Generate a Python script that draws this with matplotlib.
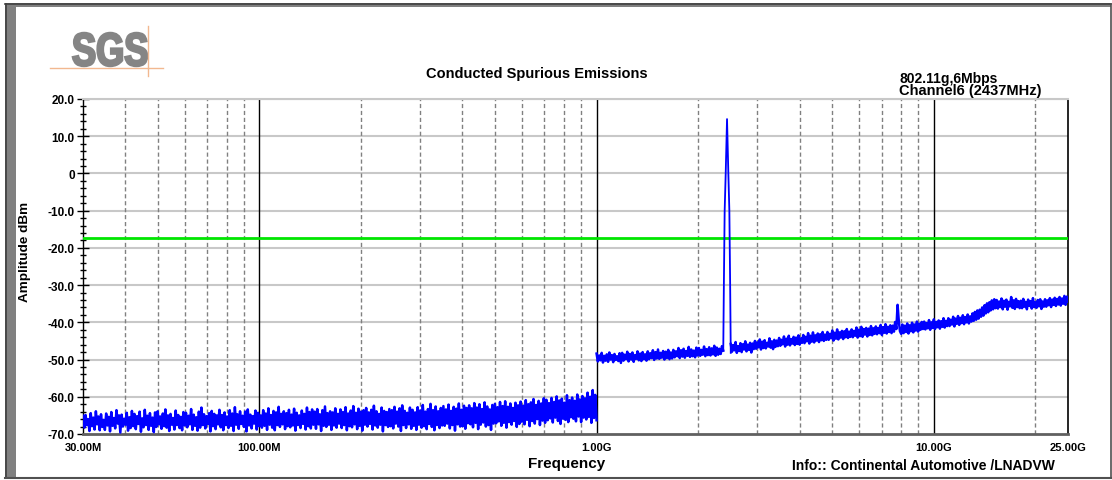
import numpy as np
import matplotlib
matplotlib.use("Agg")
import matplotlib.pyplot as plt
from matplotlib.patches import Rectangle, PathPatch
from matplotlib.lines import Line2D
from matplotlib.textpath import TextPath
from matplotlib.font_manager import FontProperties
from matplotlib.transforms import Affine2D, IdentityTransform
from matplotlib.ticker import FixedLocator, MultipleLocator

plt.rcParams['font.family'] = ['Liberation Sans', 'DejaVu Sans']

# ---------------- data ----------------
# sweep 1: 30 MHz .. 1 GHz (dBm)
low_start_hz, low_stop_hz = 30e6, 1e9
low_levels = [
    -65.1, -68.3, -64.9, -67.6, -66.0, -69.2, -64.4, -67.9, -65.6, -68.8, -63.9, -67.4, -65.3, -69.0, -64.7, -68.1, -66.2, -68.9, -64.5, -67.7,
    -65.4, -69.3, -64.1, -67.8, -65.7, -68.5, -63.6, -67.2, -65.0, -69.6, -64.8, -68.0, -65.9, -67.5, -64.3, -69.1, -65.5, -68.4, -63.8, -67.9,
    -64.6, -68.7, -65.2, -67.3, -64.0, -69.4, -65.8, -68.2, -63.5, -67.6, -65.1, -68.9, -64.4, -67.8, -65.6, -69.5, -64.2, -68.1, -63.9, -67.4,
    -65.3, -68.6, -64.5, -67.9, -63.4, -68.3, -65.0, -69.2, -64.6, -67.5, -65.7, -68.8, -63.7, -67.6, -64.9, -68.4, -65.4, -69.0, -64.1, -67.7,
    -64.3, -68.2, -65.1, -67.4, -63.3, -68.9, -64.8, -67.8, -65.5, -69.1, -64.0, -68.3, -62.9, -67.6, -64.7, -68.5, -65.2, -67.3, -64.4, -69.3,
    -63.8, -67.9, -64.6, -68.7, -65.0, -67.4, -63.5, -68.2, -64.9, -69.0, -64.2, -67.6, -65.3, -68.4, -63.6, -67.8, -64.5, -69.2, -62.8, -67.5,
    -64.7, -68.6, -63.9, -67.3, -65.1, -68.1, -64.0, -69.3, -63.4, -67.7, -64.8, -68.5, -65.2, -67.2, -63.7, -68.8, -64.3, -67.9, -65.0, -68.3,
    -63.6, -67.8, -64.5, -68.9, -63.1, -67.5, -64.9, -68.3, -63.8, -69.0, -64.2, -67.6, -62.7, -68.1, -64.6, -67.4, -63.9, -68.7, -64.4, -67.9,
    -63.5, -68.2, -64.8, -67.7, -63.2, -69.1, -64.3, -67.6, -65.0, -68.4, -63.7, -67.3, -64.6, -68.8, -62.9, -67.9, -64.1, -68.5, -63.4, -67.5,
    -64.0, -68.6, -63.3, -67.4, -64.7, -69.2, -63.6, -67.8, -62.6, -68.1, -64.4, -67.5, -63.9, -68.9, -64.2, -67.7, -63.1, -68.3, -64.6, -67.2,
    -63.4, -68.4, -64.1, -67.6, -62.8, -69.0, -64.5, -67.9, -63.7, -68.2, -62.5, -67.4, -64.3, -68.7, -63.2, -67.8, -64.0, -69.1, -63.6, -67.5,
    -63.0, -68.0, -64.2, -67.3, -63.5, -68.8, -62.4, -67.7, -63.9, -68.3, -64.6, -67.5, -62.9, -69.3, -63.8, -67.6, -64.1, -68.1, -63.3, -67.9,
    -63.6, -68.5, -62.7, -67.2, -64.0, -68.0, -63.1, -69.2, -62.3, -67.6, -63.8, -68.4, -64.3, -67.4, -62.9, -68.6, -63.5, -67.8, -64.2, -68.9,
    -62.8, -67.5, -63.7, -68.3, -62.2, -67.9, -64.0, -68.7, -63.3, -67.3, -61.9, -68.1, -63.6, -69.0, -62.6, -67.6, -63.9, -68.4, -63.0, -67.7,
    -62.5, -67.8, -63.4, -67.2, -62.1, -68.5, -63.8, -67.6, -62.7, -69.1, -63.2, -67.4, -61.8, -68.0, -63.5, -67.9, -62.4, -68.6, -63.0, -67.1,
    -62.3, -67.4, -63.1, -68.2, -61.7, -67.0, -62.9, -68.7, -62.0, -67.5, -63.3, -66.9, -61.5, -68.0, -62.6, -67.6, -63.4, -68.9, -62.2, -67.2,
    -61.9, -67.1, -62.8, -66.6, -61.4, -67.8, -62.5, -67.0, -61.2, -68.3, -62.7, -66.8, -61.8, -67.5, -63.0, -66.5, -61.6, -68.1, -62.3, -67.3,
    -61.3, -66.7, -62.4, -67.4, -60.9, -66.2, -62.0, -67.9, -61.5, -66.5, -60.6, -67.2, -62.2, -66.0, -61.1, -67.6, -61.8, -66.4, -60.4, -67.0,
    -60.8, -66.3, -61.7, -65.8, -60.3, -66.9, -61.4, -65.6, -59.9, -66.5, -61.0, -67.3, -60.5, -65.9, -61.6, -66.2, -59.6, -66.8, -60.9, -65.5,
    -60.2, -65.9, -61.1, -66.6, -59.4, -65.3, -60.7, -66.8, -59.8, -65.6, -60.4, -66.1, -58.9, -65.4, -60.0, -67.0, -58.2, -65.7, -59.5, -66.3,
]

# sweep 2a: 1 GHz .. 2.375 GHz
mid_start_hz, mid_stop_hz = 1e9, 2.375e9
mid_levels = [
    -48.4, -50.5, -48.9, -50.2, -48.2, -50.8, -49.0, -50.3, -48.6, -50.6, -48.1, -50.0, -48.8, -50.7, -48.5, -50.1, -49.1, -50.4, -48.3, -50.9,
    -48.2, -50.3, -48.7, -49.9, -47.9, -50.5, -48.5, -50.0, -48.1, -50.6, -48.8, -49.8, -47.8, -50.2, -48.4, -50.4, -48.0, -49.9, -48.6, -50.3,
    -47.8, -49.9, -48.3, -49.6, -47.5, -50.1, -48.0, -49.7, -47.3, -49.8, -48.2, -49.5, -47.7, -50.0, -47.9, -49.6, -47.4, -49.9, -48.1, -49.7,
    -47.4, -49.4, -47.8, -49.1, -46.9, -49.6, -47.5, -49.2, -47.1, -49.5, -47.7, -49.0, -46.6, -49.3, -47.3, -49.1, -47.6, -49.4, -46.8, -48.9,
    -46.9, -49.0, -47.4, -48.7, -46.5, -49.1, -47.2, -48.8, -46.7, -48.9, -47.0, -48.6, -46.3, -49.0, -46.8, -48.7, -47.1, -48.5, -46.4, -47.6,
]

# carrier, Channel 6 (2437 MHz)
peak_freq_mhz = [2375, 2385, 2398, 2415, 2437, 2459, 2476, 2489, 2500]
peak_levels = [-47.6, -30.0, -10.0, 0.0, 14.6, 0.0, -10.0, -29.0, -48.2]

# sweep 2b: 2.5 GHz .. 25 GHz
high_start_hz, high_stop_hz = 2.5e9, 25e9
high_levels = [
    -45.8, -47.9, -46.1, -47.5, -45.3, -48.2, -46.4, -47.7, -45.6, -48.0, -45.9, -47.3, -45.1, -47.8, -46.0, -47.4, -45.5, -48.1, -45.7, -47.2,
    -45.0, -47.1, -45.4, -46.7, -44.6, -47.3, -45.2, -46.9, -44.8, -47.0, -45.5, -46.5, -44.3, -46.8, -45.1, -47.2, -44.7, -46.6, -44.9, -46.4,
    -44.2, -46.3, -44.7, -45.9, -43.8, -46.5, -44.4, -46.0, -43.6, -46.2, -44.5, -45.7, -43.9, -46.1, -44.1, -45.8, -43.5, -46.0, -44.3, -45.5,
    -43.4, -45.6, -43.9, -45.1, -42.9, -45.7, -43.6, -45.2, -42.7, -45.4, -43.5, -44.9, -43.0, -45.3, -43.2, -44.8, -42.6, -45.0, -43.3, -44.7,
    -42.6, -44.7, -43.1, -44.3, -42.2, -44.9, -42.8, -44.4, -41.9, -44.6, -42.7, -44.1, -42.3, -44.5, -42.4, -44.0, -41.8, -44.2, -42.5, -43.9,
    -41.9, -44.0, -42.3, -43.6, -41.4, -44.1, -42.0, -43.7, -41.2, -43.9, -41.8, -43.3, -41.5, -43.8, -41.7, -43.4, -41.0, -43.5, -41.6, -43.1,
    -41.1, -43.2, -41.5, -42.9, -40.7, -43.4, -41.3, -42.8, -40.5, -43.0, -41.2, -42.6, -40.8, -42.9, -40.9, -42.5, -39.9, -41.8, -35.3, -39.6,
    -42.4, -43.1, -40.6, -42.9, -40.9, -42.6, -40.3, -43.0, -40.8, -42.4, -40.1, -42.7, -40.6, -42.2, -39.8, -42.5, -40.4, -42.0, -39.9, -41.8,
    -39.8, -41.9, -40.2, -41.6, -39.4, -42.0, -40.0, -41.5, -39.2, -41.8, -39.9, -41.3, -39.5, -41.7, -39.7, -41.2, -38.9, -41.4, -39.6, -41.0,
    -38.9, -41.0, -39.3, -40.6, -38.5, -41.1, -39.0, -40.4, -38.3, -40.7, -38.8, -40.2, -38.1, -40.5, -38.6, -40.0, -37.9, -40.3, -38.4, -39.8,
    -37.6, -39.6, -37.2, -39.3, -36.8, -39.0, -36.6, -38.5, -36.0, -38.2, -35.4, -37.6, -34.9, -37.3, -34.6, -36.8, -34.1, -36.5, -33.8, -36.2,
    -34.0, -36.3, -34.4, -35.9, -33.6, -36.5, -34.2, -35.8, -33.9, -36.6, -34.5, -35.7, -33.2, -36.1, -34.1, -36.4, -33.7, -35.9, -34.3, -36.2,
    -34.2, -36.2, -33.7, -35.8, -34.5, -36.5, -33.9, -35.6, -34.3, -36.3, -33.5, -35.9, -34.6, -36.1, -34.0, -35.7, -33.8, -36.4, -34.4, -35.8,
    -33.8, -35.8, -34.1, -35.4, -33.5, -35.9, -33.9, -35.3, -33.4, -35.6, -33.7, -35.2, -33.2, -35.5, -33.6, -35.0, -32.9, -35.3, -33.1, -34.4,
]

limit_dbm = -17.3

x_tick_hz = [30e6, 100e6, 1e9, 10e9, 25e9]
x_tick_labels = ["30.00M", "100.00M", "1.00G", "10.00G", "25.00G"]
x_minor_hz = [40e6, 50e6, 60e6, 70e6, 80e6, 90e6,
              200e6, 300e6, 400e6, 500e6, 600e6, 700e6, 800e6, 900e6,
              2e9, 3e9, 4e9, 5e9, 6e9, 7e9, 8e9, 9e9, 20e9]
x_decade_hz = [100e6, 1e9, 10e9]
y_ticks = [-70, -60, -50, -40, -30, -20, -10, 0, 10, 20]
y_tick_labels = ["-70.0", "-60.0", "-50.0", "-40.0", "-30.0", "-20.0",
                 "-10.0", "0", "10.0", "20.0"]

# sweep frequency grids (analyser sweep points)
low_f = np.geomspace(low_start_hz, low_stop_hz, len(low_levels))
mid_f = np.geomspace(mid_start_hz, mid_stop_hz, len(mid_levels))
high_f = np.geomspace(high_start_hz, high_stop_hz, len(high_levels))
peak_f = np.array(peak_freq_mhz) * 1e6

# ---------------- figure ----------------
W, H = 1112, 481
fig = plt.figure(figsize=(W / 100, H / 100), dpi=100)
fig.patch.set_facecolor("white")

def fx(px):
    return px / W

def fy(py):
    return 1 - py / H

ax = fig.add_axes([fx(83), fy(435), fx(1068) - fx(83), fy(100) - fy(435)])
ax.set_xscale("log")
ax.set_xlim(30e6, 25e9)
ax.set_ylim(-70, 20)

# grids
for f in x_minor_hz:
    ax.axvline(f, color="#808080", lw=1.0, linestyle=(0, (3, 2)), zorder=1)
for f in x_decade_hz:
    ax.axvline(f, color="black", lw=1.0, zorder=1)
for v in y_ticks[1:]:
    ax.axhline(v, color="#c8c8c8", lw=1.5, zorder=0.9)

ax.set_xticks(x_tick_hz)
ax.set_xticklabels(x_tick_labels)
ax.xaxis.set_minor_locator(FixedLocator([]))
ax.tick_params(axis="x", which="both", length=0, pad=6, labelsize=8)
for t in ax.get_xticklabels():
    t.set_fontweight("bold")

ax.set_yticks(y_ticks)
ax.set_yticklabels(y_tick_labels)
ax.yaxis.set_minor_locator(MultipleLocator(2))
ax.tick_params(axis="y", which="major", direction="inout", length=8, width=1, labelsize=8.5, pad=2)
ax.tick_params(axis="y", which="minor", direction="inout", length=5, width=1)
for t in ax.get_yticklabels():
    t.set_fontweight("bold")

ax.spines["left"].set_color("black")
ax.spines["left"].set_linewidth(1.0)
ax.spines["right"].set_color("black")
ax.spines["right"].set_linewidth(1.2)
ax.spines["top"].set_color("#c8c8c8")
ax.spines["top"].set_linewidth(1.5)
ax.spines["bottom"].set_color("#606060")
ax.spines["bottom"].set_linewidth(2.0)

# data
ax.axhline(limit_dbm, color="#00e600", lw=2.0, zorder=3)
trace_kw = dict(color="#0000ff", lw=1.8, zorder=4)
ax.plot(low_f, low_levels, **trace_kw)
ax.plot(mid_f, mid_levels, **trace_kw)
ax.plot(peak_f, peak_levels, color="#0000ff", lw=1.3, zorder=4)
ax.plot(high_f, high_levels, **trace_kw)

# texts
fig.text(fx(537), fy(74), "Conducted Spurious Emissions", ha="center", va="center",
         fontsize=10.5, fontweight="bold")
fig.text(fx(899), fy(83), "802.11g,6Mbps", ha="left", va="baseline",
         fontsize=10, fontweight="bold")
fig.text(fx(899), fy(94.5), "Channel6 (2437MHz)", ha="left", va="baseline",
         fontsize=10.5, fontweight="bold")
fig.text(fx(25), fy(252), "Amplitude dBm", rotation=90, ha="center", va="center",
         fontsize=9.7, fontweight="bold")
fig.text(fx(567), fy(464), "Frequency", ha="center", va="center",
         fontsize=11, fontweight="bold")
fig.text(fx(1055), fy(466), "Info:: Continental Automotive /LNADVW", ha="right", va="center",
         fontsize=10, fontweight="bold")
# clipped page title above frame
fig.text(fx(575), fy(-3), "Conducted Spurious Emissions 802.11g, Channel 6, 6Mbps",
         ha="center", va="baseline", fontsize=12)

# SGS logo (condensed heavy lettering fitted to its box)
tp = TextPath((0, 0), "SGS", size=40, prop=FontProperties(family="Liberation Sans", weight="bold"))
ext = tp.get_extents()
box_l, box_r, box_t, box_b = 73, 147, 34, 67
sx = (box_r - box_l) / ext.width
sy = (box_b - box_t) / ext.height
tr = Affine2D().translate(-ext.x0, -ext.y0).scale(sx, sy).translate(box_l, H - box_b)
fig.add_artist(PathPatch(tr.transform_path(tp), facecolor="#858585", edgecolor="#858585",
                         linewidth=1.8, joinstyle="miter", transform=IdentityTransform()))
fig.add_artist(Line2D([fx(50), fx(163)], [fy(69), fy(69)], color="#f2b890", lw=1.0))
fig.add_artist(Line2D([fx(148), fx(148)], [fy(27), fy(77)], color="#f2b890", lw=1.0))

# frame
fig.add_artist(Rectangle((fx(5), fy(8)), fx(1111) - fx(5), fy(4) - fy(8),
                         facecolor="#808080", edgecolor="none"))
fig.add_artist(Line2D([fx(5), fx(1111)], [fy(4.5), fy(4.5)], color="#404040", lw=1.2))
fig.add_artist(Rectangle((fx(5), fy(479)), fx(16) - fx(5), fy(5) - fy(479),
                         facecolor="#808080", edgecolor="none"))
fig.add_artist(Line2D([fx(5.5), fx(5.5)], [fy(479), fy(5)], color="#404040", lw=1.2))
fig.add_artist(Line2D([fx(5), fx(1111)], [fy(479), fy(479)], color="#505050", lw=1.5))
fig.add_artist(Line2D([fx(1110.5), fx(1110.5)], [fy(479), fy(5)], color="#505050", lw=1.2))

fig.savefig("out.png", dpi=100)
